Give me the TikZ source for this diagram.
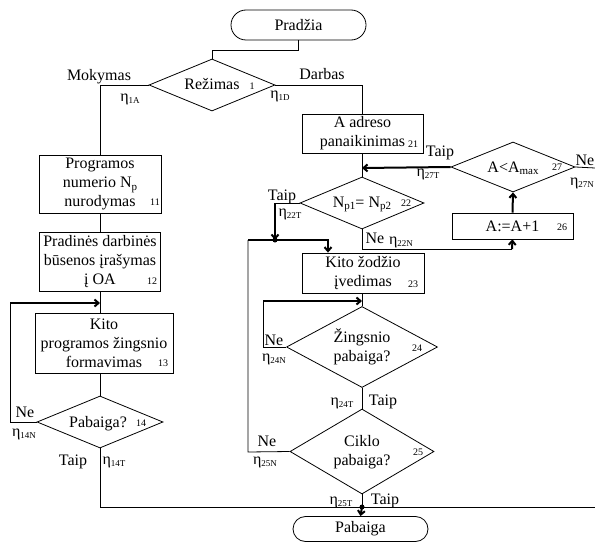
\documentclass[tikz,border=0pt]{standalone}
\usepackage{fontspec}
\setmainfont{Liberation Serif}
\usetikzlibrary{shapes.geometric,arrows.meta}
\newcommand\et[1]{η\raisebox{-0.3ex}{\fontsize{9}{9}\selectfont #1}}
\newcommand\sbx[1]{\raisebox{-0.35ex}{\fontsize{11}{11}\selectfont #1}}
\begin{document}
\begin{tikzpicture}[x=1pt,y=-1pt, font=\fontsize{16}{19}\selectfont, line width=0.8pt,
  box/.style={draw, rectangle, inner sep=0pt, align=center},
  dia/.style={draw, diamond, inner sep=0pt},
  term/.style={draw, rectangle, inner sep=0pt},
  lbl/.style={inner sep=0pt, anchor=base},
  mtxt/.style={inner sep=0pt, align=center, anchor=center},
  nr/.style={inner sep=0pt, anchor=base, font=\fontsize{10}{10}\selectfont},
  thk/.style={line width=2pt},
  arr/.style={-{Straight Barb[length=4pt,width=7pt]}},
  dotm/.style={circle, fill, inner sep=0pt, minimum size=5pt}]
\useasboundingbox (0,0) rectangle (595,543);

% shapes
\node[term, rounded corners=15pt, minimum width=135pt, minimum height=30pt] (start) at (298.5,25) {Pradžia};
\node[dia, minimum width=126pt, minimum height=52pt] (d1) at (212,85) {};
\node[lbl] (t1) at (212,90) {Režimas};
\node[nr] (n1) at (252,89) {1};

\node[box, minimum width=122pt, minimum height=58pt] (b11) at (100,184) {Programos\\numerio N\sbx{p}\\nurodymas};
\node[nr] (n11) at (155,205) {11};
\node[box, minimum width=121pt, minimum height=59pt] (b12) at (100,261.5) {Pradinės darbinės\\būsenos įrašymas\\į OA};
\node[nr] (n12) at (152,284) {12};
\node[box, minimum width=138pt, minimum height=60pt] (b13) at (104,343) {Kito\\programos žingsnio\\formavimas};
\node[nr] (n13) at (163,366) {13};
\node[dia, minimum width=126pt, minimum height=52pt] (d14) at (100,422) {};
\node[lbl] (t14) at (98,427) {Pabaiga?};
\node[nr] (n14) at (141,426) {14};

\node[box, minimum width=121pt, minimum height=39pt] (b21) at (362.5,133.5) {A adreso\\panaikinimas};
\node[nr] (n21) at (413,147) {21};
\node[dia, minimum width=124pt, minimum height=52pt] (d22) at (362,203) {};
\node[lbl] (t22) at (362,207) {N\sbx{p1}= N\sbx{p2}};
\node[nr] (n22) at (406,206) {22};
\node[box, minimum width=122pt, minimum height=40pt] (b23) at (363,273) {Kito žodžio\\įvedimas};
\node[nr] (n23) at (413,287) {23};
\node[dia, minimum width=151pt, minimum height=81pt] (d24) at (362,347) {};
\node[mtxt] (t24) at (362,347) {Žingsnio\\pabaiga?};
\node[nr] (n24) at (417,351) {24};
\node[dia, minimum width=144pt, minimum height=85pt] (d25) at (362,451.5) {};
\node[mtxt] (t25) at (362,452) {Ciklo\\pabaiga?};
\node[nr] (n25) at (418,455) {25};
\node[box, minimum width=121pt, minimum height=26pt] (b26) at (512.5,226) {A:=A+1};
\node[nr] (n26) at (562,230) {26};
\node[dia, minimum width=124pt, minimum height=50pt] (d27) at (513,167) {};
\node[lbl] (t27) at (513,172) {A<A\sbx{max}};
\node[nr] (n27) at (557,170) {27};
\node[term, rounded corners=12.5pt, minimum width=135pt, minimum height=25pt] (end) at (360.5,529) {Pabaiga};

% coordinates
\coordinate (j13) at (100,303);
\coordinate (l13) at (10,303);
\coordinate (l14) at (10,422);
\coordinate (b14) at (100,507);
\coordinate (rb) at (595,507);
\coordinate (m25) at (362,507);
\coordinate (a21) at (362,168);
\coordinate (c22) at (275,203);
\coordinate (c22b) at (275,240);
\coordinate (c25) at (248,452);
\coordinate (c23) at (248,240);
\coordinate (e23) at (328,240);
\coordinate (s22) at (362,249);
\coordinate (s26) at (512,249);
\coordinate (r27) at (595,168);
\coordinate (a24) at (362,301);
\coordinate (l24) at (263,301);
\coordinate (w24) at (263,347);

% connectors
\draw (start.south) -- ++(0,10) -| (d1.north);
\draw (d1.west) -| (b11.north);
\draw (d1.east) -| (b21.north);
\draw (b11.south) -- (b12.north);
\draw (b12.south) -- (b12.south |- b13.north);
\draw (d14.north |- b13.south) -- (d14.north);
\draw (d14.west) -- (l14) -- (l13);
\draw[thk,arr] (l13) -- (j13);
\draw (d14.south) -- (b14) -- (rb);
\draw (d25.south) -- (m25);
\draw[thk,arr] (m25) -- (end.north);
\node[dotm] (dot25) at (m25) {};
\draw (d22.north |- b21.south) -- (d22.north);
\draw[thk,arr] (d27.west) -- (a21);
\draw (d22.west) -- (c22);
\draw[thk,arr] (c22) -- (c22b);
\node[dotm] (dot22) at (c22b) {};
\draw (d25.west) -- (c25) -- (c23);
\draw[thk,arr] (c23) -- (e23) -- (e23 |- b23.north);
\draw (d22.south) -- (s22) -- (s26);
\draw[thk,arr] (s26) -- (b26.south);
\draw[thk,arr] (b26.north) -- (d27.south);
\draw (d27.east) -- (r27);
\draw (d24.north |- b23.south) -- (d24.north);
\draw (d24.west) -- (w24) -- (l24);
\draw[thk,arr] (l24) -- (a24);
\draw (d24.south) -- (d25.north);

% branch labels
\node[lbl] (lm) at (99,81) {Mokymas};
\node[lbl] (e1a) at (130,101.5) {\et{1A}};
\node[lbl] (ld) at (322,80) {Darbas};
\node[lbl] (e1d) at (280,98.5) {\et{1D}};
\node[lbl] (lt22) at (282,200) {Taip};
\node[lbl] (e22t) at (290,216) {\et{22T}};
\node[lbl] (ln22) at (375,243) {Ne};
\node[lbl] (e22n) at (401,244) {\et{22N}};
\node[lbl] (lt27) at (440,156) {Taip};
\node[lbl] (e27t) at (428,176) {\et{27T}};
\node[lbl] (ln27) at (585,165) {Ne};
\node[lbl] (e27n) at (582,185) {\et{27N}};
\node[lbl] (ln24) at (274,345) {Ne};
\node[lbl] (e24n) at (274,361) {\et{24N}};
\node[lbl] (e24t) at (342,405) {\et{24T}};
\node[lbl] (lt24) at (383,405) {Taip};
\node[lbl] (ln25) at (267,446) {Ne};
\node[lbl] (e25n) at (265,464) {\et{25N}};
\node[lbl] (e25t) at (341,504) {\et{25T}};
\node[lbl] (lt25) at (385,504) {Taip};
\node[lbl] (ln14) at (25,417) {Ne};
\node[lbl] (e14n) at (24,436) {\et{14N}};
\node[lbl] (lt14) at (73,465) {Taip};
\node[lbl] (e14t) at (114,464) {\et{14T}};
\end{tikzpicture}
\end{document}
